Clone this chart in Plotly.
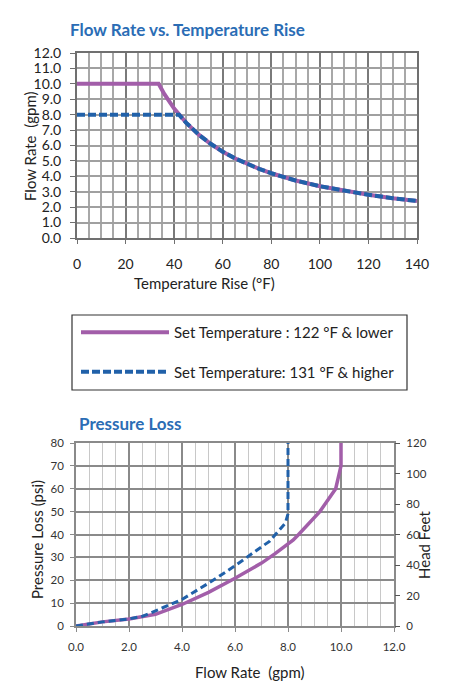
import plotly.graph_objects as go

# ---------- Data: Flow Rate vs. Temperature Rise ----------
temp_rise_low = [0, 33.6, 36, 40, 45, 50, 55, 60, 65, 70, 75, 80, 90, 100, 110, 120, 130, 140]
flow_low = [10.0, 10.0, 9.33, 8.4, 7.47, 6.72, 6.11, 5.6, 5.17, 4.8, 4.48, 4.2, 3.73, 3.36, 3.05, 2.8, 2.58, 2.4]

temp_rise_high = [0, 42, 45, 50, 55, 60, 65, 70, 75, 80, 90, 100, 110, 120, 130, 140]
flow_high = [8.0, 8.0, 7.47, 6.72, 6.11, 5.6, 5.17, 4.8, 4.48, 4.2, 3.73, 3.36, 3.05, 2.8, 2.58, 2.4]

# ---------- Data: Pressure Loss ----------
pl_flow_low = [0.0, 1.0, 2.0, 2.5, 3.0, 4.0, 5.0, 6.0, 7.0, 7.5, 8.2, 8.4, 9.2, 9.8, 10.0, 10.0]
pl_psi_low = [0.0, 1.8, 3.1, 4.0, 5.1, 9.4, 14.7, 20.9, 27.5, 31.5, 37.6, 40.0, 50.0, 60.0, 70.0, 80.0]

pl_flow_high = [0.0, 1.0, 2.0, 2.5, 3.0, 4.0, 5.0, 6.0, 7.0, 7.3, 7.9, 8.0, 8.0]
pl_psi_high = [0.0, 1.8, 3.1, 4.2, 6.6, 11.6, 18.7, 26.3, 34.6, 37.0, 45.0, 49.0, 80.0]

names = ["Set Temperature : 122 °F & lower", "Set Temperature: 131 °F & higher"]

PURPLE = "#a25ea9"
BLUE = "#2161a9"
TITLE_BLUE = "#2b6db5"
FONT = "Lato"

W, H = 457, 700
def px_x(p):
    return p / W
def px_y(p):
    return 1 - p / H

fig = go.Figure()

# Top chart
fig.add_trace(go.Scatter(x=temp_rise_low, y=flow_low, mode="lines", name=names[0],
                         line=dict(color=PURPLE, width=4), legendgroup="a",
                         xaxis="x", yaxis="y"))
fig.add_trace(go.Scatter(x=temp_rise_high, y=flow_high, mode="lines", name=names[1],
                         line=dict(color=BLUE, width=4, dash="8px,3px"), legendgroup="b",
                         xaxis="x", yaxis="y"))

# Bottom chart
fig.add_trace(go.Scatter(x=pl_flow_low, y=pl_psi_low, mode="lines", showlegend=False,
                         line=dict(color=PURPLE, width=3.5), xaxis="x2", yaxis="y2"))
fig.add_trace(go.Scatter(x=pl_flow_high, y=pl_psi_high, mode="lines", showlegend=False,
                         line=dict(color=BLUE, width=3, dash="7px,4px"), xaxis="x2", yaxis="y2"))

tick_font_top = dict(family=FONT, size=14, color="#222222")
tick_font_bot = dict(family=FONT, size=11.5, color="#333333")

fig.update_layout(
    width=W, height=H,
    margin=dict(l=0, r=0, t=0, b=0),
    paper_bgcolor="white", plot_bgcolor="white",
    font=dict(family=FONT),
    xaxis=dict(domain=[px_x(77), px_x(417)], anchor="y", range=[0, 140],
               dtick=20, tick0=0, showgrid=True, gridcolor="#7a7a7a", gridwidth=2,
               minor=dict(dtick=5, showgrid=True, gridcolor="#a8a8a8", gridwidth=1.6),
               showline=True, linecolor="#707070", linewidth=2, mirror=True,
               ticks="outside", ticklen=4, tickcolor="#707070",
               tickfont=tick_font_top, ticklabelstandoff=8,
               zeroline=False, automargin=False, fixedrange=True),
    yaxis=dict(domain=[px_y(238), px_y(53)], anchor="x", range=[0, 12],
               dtick=1, tickformat=".1f", showgrid=True, gridcolor="#a0a0a0", gridwidth=1.6,
               showline=True, linecolor="#707070", linewidth=2, mirror=True,
               ticks="outside", ticklen=5, tickcolor="#707070",
               tickfont=tick_font_top, ticklabelstandoff=6,
               zeroline=False, automargin=False, fixedrange=True),
    xaxis2=dict(domain=[px_x(76), px_x(394)], anchor="y2", range=[0, 12],
                dtick=2, tick0=0, tickformat=".1f", showgrid=True, gridcolor="#8a8a8a", gridwidth=1.5,
                minor=dict(dtick=0.5, showgrid=True, gridcolor="#c8c8c8", gridwidth=1),
                showline=True, linecolor="#8a8a8a", linewidth=1.5, mirror=True,
                ticks="outside", ticklen=4, tickcolor="#8a8a8a",
                tickfont=tick_font_bot, ticklabelstandoff=5,
                zeroline=False, automargin=False, fixedrange=True),
    yaxis2=dict(domain=[px_y(626), px_y(443)], anchor="x2", range=[0, 80],
                dtick=10, showgrid=True, gridcolor="#8a8a8a", gridwidth=1.5,
                showline=True, linecolor="#8a8a8a", linewidth=1.5, mirror=True,
                ticks="outside", ticklen=4, tickcolor="#8a8a8a",
                tickfont=tick_font_bot, ticklabelstandoff=4,
                zeroline=False, automargin=False, fixedrange=True),
    yaxis3=dict(overlaying="y2", anchor="x2", side="right", range=[0, 120],
                dtick=20, showgrid=False, showline=False,
                ticks="outside", ticklen=5, tickcolor="#555555",
                tickfont=tick_font_bot, ticklabelstandoff=4,
                zeroline=False, automargin=False, fixedrange=True),
    showlegend=True,
    legend=dict(x=px_x(76), y=px_y(316), xanchor="left", yanchor="top",
                traceorder="grouped", tracegroupgap=17, itemwidth=88,
                bgcolor="rgba(0,0,0,0)", borderwidth=0,
                font=dict(family=FONT, size=15, color="#222222")),
)

# invisible trace to make yaxis3 show
fig.add_trace(go.Scatter(x=[0], y=[0], xaxis="x2", yaxis="y3", mode="markers",
                         marker=dict(opacity=0), showlegend=False, hoverinfo="skip"))

# Legend box
fig.add_shape(type="rect", xref="paper", yref="paper",
              x0=px_x(72), x1=px_x(407), y0=px_y(390), y1=px_y(315),
              line=dict(color="#333333", width=1.2), fillcolor="rgba(0,0,0,0)")

ann = []
ann.append(dict(text="<b>Flow Rate vs. Temperature Rise</b>", x=px_x(68), y=px_y(30),
                xanchor="left", yanchor="middle", font=dict(family=FONT, size=17, color=TITLE_BLUE)))
ann.append(dict(text="Flow Rate  (gpm)", x=px_x(30), y=px_y(146), textangle=-90,
                xanchor="center", yanchor="middle", font=dict(family=FONT, size=15, color="#222222")))
ann.append(dict(text="Temperature Rise (°F)", x=px_x(204), y=px_y(283),
                xanchor="center", yanchor="middle", font=dict(family=FONT, size=15, color="#222222")))
ann.append(dict(text="<b>Pressure Loss</b>", x=px_x(77), y=px_y(423),
                xanchor="left", yanchor="middle", font=dict(family=FONT, size=17, color=TITLE_BLUE)))
ann.append(dict(text="Pressure Loss (psi)", x=px_x(37), y=px_y(540), textangle=-90,
                xanchor="center", yanchor="middle", font=dict(family=FONT, size=15, color="#222222")))
ann.append(dict(text="Head Feet", x=px_x(424), y=px_y(545), textangle=-90,
                xanchor="center", yanchor="middle", font=dict(family=FONT, size=15, color="#222222")))
ann.append(dict(text="Flow Rate  (gpm)", x=px_x(250), y=px_y(672),
                xanchor="center", yanchor="middle", font=dict(family=FONT, size=15, color="#222222")))
for a in ann:
    a.update(xref="paper", yref="paper", showarrow=False)
fig.update_layout(annotations=ann)

fig.write_html("out.html")
